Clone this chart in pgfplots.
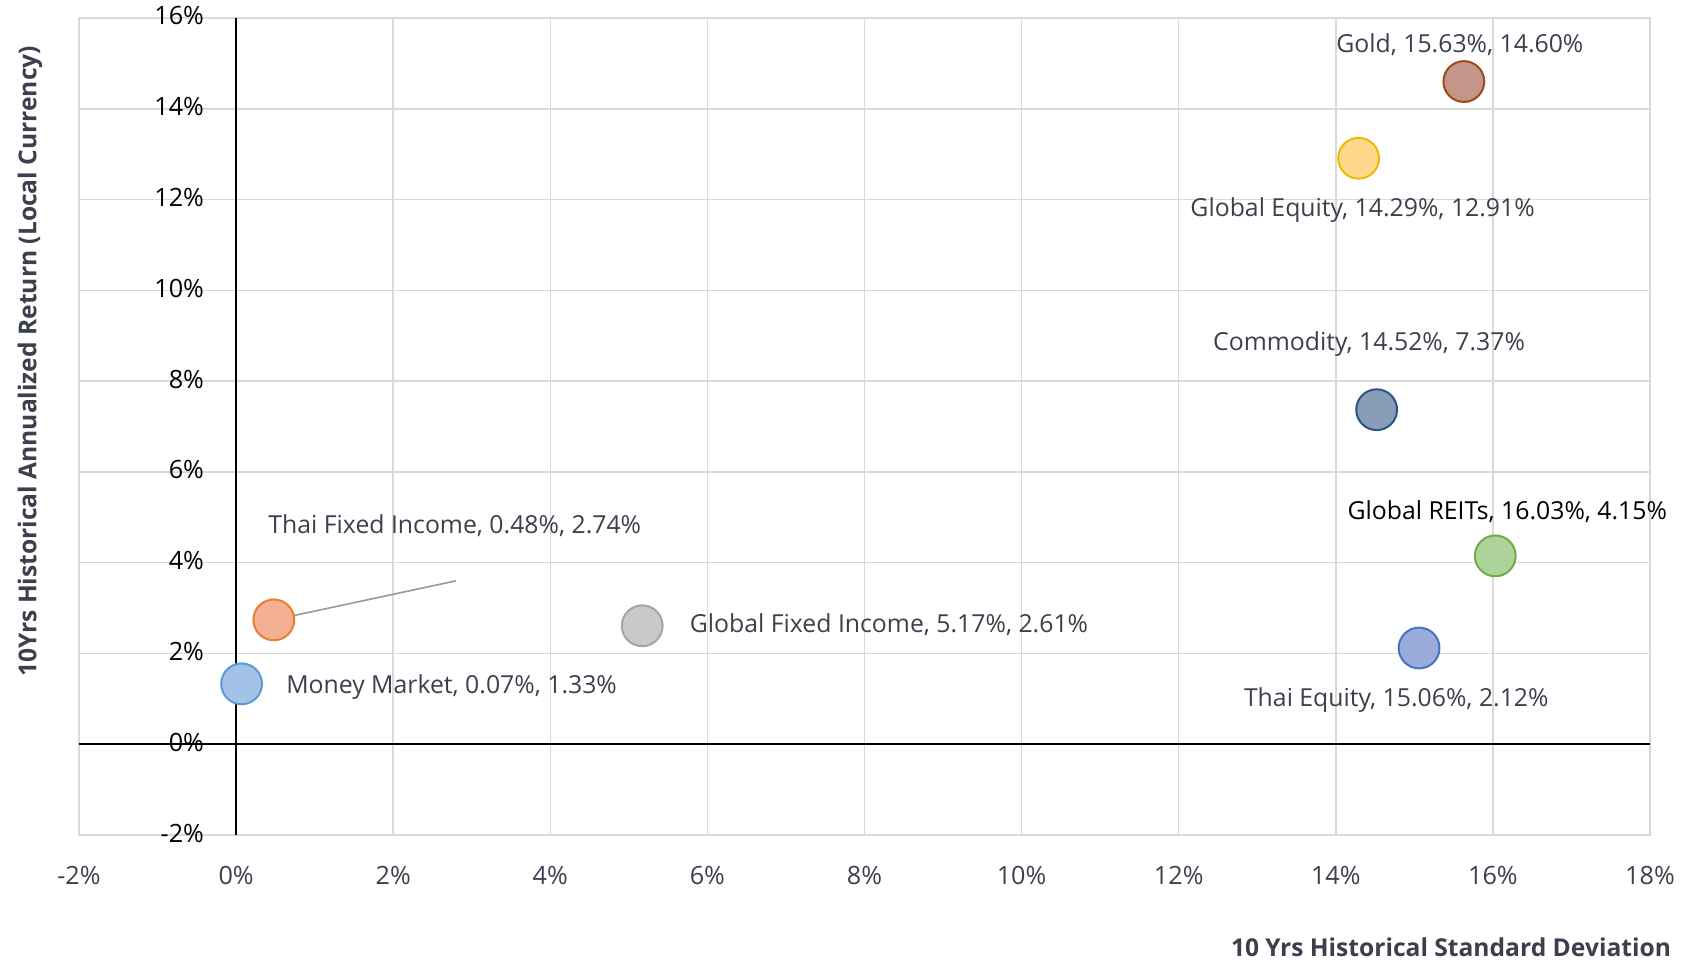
\documentclass[border=0pt]{standalone}
\usepackage{fontspec}
\setmainfont{Open Sans}
\usepackage{pgfplots}
\pgfplotsset{compat=1.18}
\definecolor{gridc}{HTML}{D9D9D9}
\definecolor{txt}{HTML}{3C3F4C}
\definecolor{goldF}{HTML}{C4968A}\definecolor{goldD}{HTML}{9E4A12}
\definecolor{geqF}{HTML}{FFD88C}\definecolor{geqD}{HTML}{F2B800}
\definecolor{comF}{HTML}{8A9DB8}\definecolor{comD}{HTML}{2A5583}
\definecolor{reitF}{HTML}{AED39A}\definecolor{reitD}{HTML}{70AD47}
\definecolor{teqF}{HTML}{9AABDA}\definecolor{teqD}{HTML}{4472C4}
\definecolor{tfiF}{HTML}{F4B093}\definecolor{tfiD}{HTML}{ED7D31}
\definecolor{gfiF}{HTML}{C9C9C9}\definecolor{gfiD}{HTML}{A5A5A5}
\definecolor{mmF}{HTML}{A2C2E8}\definecolor{mmD}{HTML}{5B9BD5}
\begin{document}
\begin{tikzpicture}
\begin{axis}[
  scale only axis, width=785.5pt, height=408.5pt,
  xmin=-2, xmax=18, ymin=-2, ymax=16,
  xtick={-2,0,...,18}, ytick={-2,0,...,16},
  grid=major, major grid style={gridc, line width=0.75pt},
  axis line style={gridc, line width=0.75pt},
  major tick length=0pt,
  /pgf/number format/assume math mode=true,
  xticklabel={\pgfmathprintnumber{\tick}\%},
  yticklabel={\pgfmathprintnumber{\tick}\%},
  tick label style={font=\fontsize{12.6}{14}\selectfont},
  xticklabel style={text=txt, yshift=-12pt},
  yticklabel style={text=black, anchor=east, xshift=66pt, yshift=1pt},
  xlabel={10 Yrs Historical Standard Deviation},
  ylabel={10Yrs Historical Annualized Return (Local Currency)},
  label style={font=\fontsize{12.3}{14}\selectfont\bfseries, text=txt},
  xlabel style={at={(rel axis cs:1,0)}, anchor=east, xshift=14pt, yshift=-56pt},
  ylabel style={at={(rel axis cs:0,0.58)}, anchor=center, yshift=24.5pt},
  clip=false,
  nodes near coords style={font=\fontsize{12.4}{14}\selectfont, text=txt},
]
\coordinate (A) at (rel axis cs:0,0);
\coordinate (B) at (rel axis cs:1,1);
% zero lines
\addplot[black, line width=1pt] coordinates {(-2,0) (18,0)};
\addplot[black, line width=1pt] coordinates {(0,-2) (0,16)};
% points
\addplot[only marks, mark=*, mark size=10.2pt, mark options={draw=goldD, fill=goldF, line width=1pt},
  nodes near coords={Gold, 15.63\%, 14.60\%},
  nodes near coords style={anchor=center, xshift=-2pt, yshift=18.5pt}]
  coordinates {(15.63,14.60)};
\addplot[only marks, mark=*, mark size=10.2pt, mark options={draw=geqD, fill=geqF, line width=1pt},
  nodes near coords={Global Equity, 14.29\%, 12.91\%},
  nodes near coords style={anchor=center, xshift=2pt, yshift=-26pt}]
  coordinates {(14.29,12.91)};
\addplot[only marks, mark=*, mark size=10.2pt, mark options={draw=comD, fill=comF, line width=1pt},
  nodes near coords={Commodity, 14.52\%, 7.37\%},
  nodes near coords style={anchor=center, xshift=-3.8pt, yshift=32.7pt}]
  coordinates {(14.52,7.37)};
\addplot[only marks, mark=*, mark size=10.2pt, mark options={draw=reitD, fill=reitF, line width=1pt},
  nodes near coords={Global REITs, 16.03\%, 4.15\%},
  nodes near coords style={anchor=center, xshift=6pt, yshift=22.3pt, text=black}]
  coordinates {(16.03,4.15)};
\addplot[only marks, mark=*, mark size=10.2pt, mark options={draw=teqD, fill=teqF, line width=1pt},
  nodes near coords={Thai Equity, 15.06\%, 2.12\%},
  nodes near coords style={anchor=center, xshift=-11.4pt, yshift=-26.2pt}]
  coordinates {(15.06,2.12)};
\addplot[only marks, mark=*, mark size=10.2pt, mark options={draw=gfiD, fill=gfiF, line width=1pt},
  nodes near coords={Global Fixed Income, 5.17\%, 2.61\%},
  nodes near coords style={anchor=west, xshift=20pt, yshift=0.3pt}]
  coordinates {(5.17,2.61)};
\addplot[only marks, mark=*, mark size=10.2pt, mark options={draw=mmD, fill=mmF, line width=1pt},
  nodes near coords={Money Market, 0.07\%, 1.33\%},
  nodes near coords style={anchor=west, xshift=18.5pt, yshift=-1.5pt}]
  coordinates {(0.07,1.33)};
\addplot[only marks, mark=*, mark size=10.2pt, mark options={draw=tfiD, fill=tfiF, line width=1pt},
  nodes near coords={Thai Fixed Income, 0.48\%, 2.74\%},
  nodes near coords style={anchor=center, xshift=90.5pt, yshift=47pt}]
  coordinates {(0.48,2.74)};
% leader lines
\addplot[gray!80, line width=0.8pt] coordinates {(0.48,2.74) (2.8,3.6)};
\addplot[gray!80, line width=0.8pt] coordinates {(15.63,14.60) (15.6,14.93)};
\end{axis}
\pgfresetboundingbox
\path ([xshift=-39.5pt, yshift=-64pt]A) rectangle ([xshift=24.5pt, yshift=9pt]B);
\end{tikzpicture}
\end{document}
